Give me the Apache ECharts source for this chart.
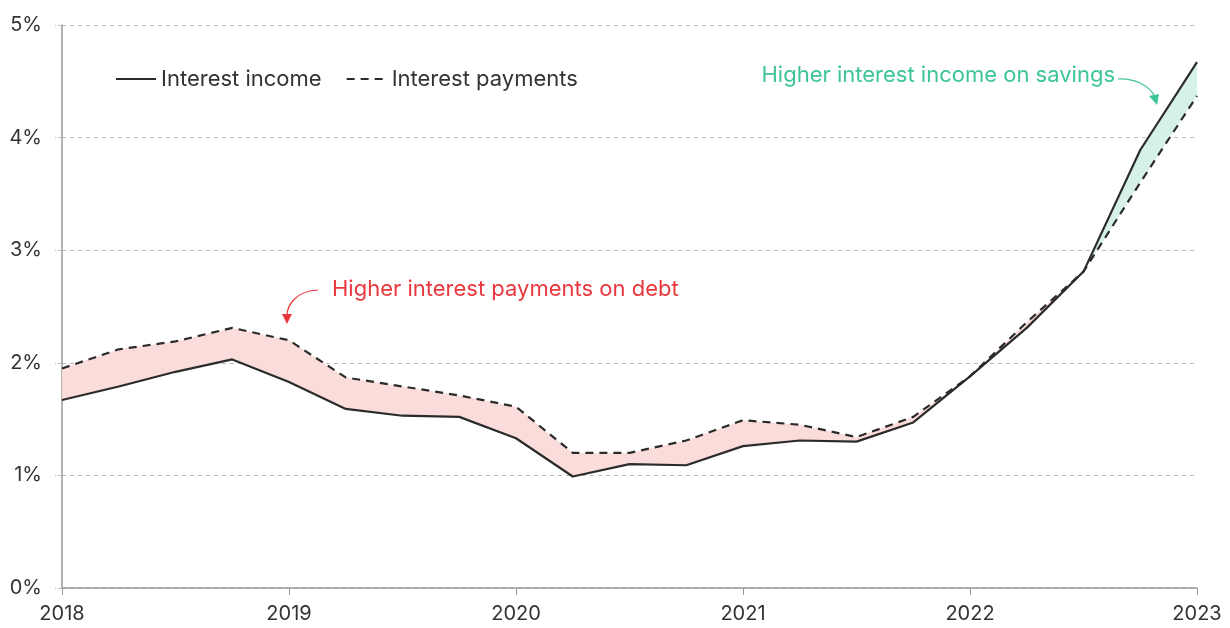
<!DOCTYPE html>
<html>
<head>
<meta charset="utf-8">
<script src="https://cdn.jsdelivr.net/npm/echarts@6/dist/echarts.min.js"></script>
<style>
  html, body { margin: 0; padding: 0; background: #fff; }
  #chart { width: 1230px; height: 628px; }
</style>
</head>
<body>
<div id="chart"></div>
<script>
// quarterly, 2018 Q1 .. 2023 Q1
const quarters = ['2018Q1','2018Q2','2018Q3','2018Q4','2019Q1','2019Q2','2019Q3','2019Q4',
  '2020Q1','2020Q2','2020Q3','2020Q4','2021Q1','2021Q2','2021Q3','2021Q4',
  '2022Q1','2022Q2','2022Q3','2022Q4','2023Q1']
const interestIncome = [1.67, 1.79, 1.92, 2.03, 1.83, 1.59, 1.53, 1.52, 1.33, 0.99, 1.10,
  1.09, 1.26, 1.31, 1.30, 1.47, 1.88, 2.31, 2.81, 3.89, 4.67]
const interestPayments = [1.95, 2.12, 2.19, 2.31, 2.20, 1.87, 1.79, 1.71, 1.61, 1.20, 1.20,
  1.31, 1.49, 1.45, 1.34, 1.52, 1.88, 2.36, 2.81, 3.60, 4.37]
const yTicks = [0, 1, 2, 3, 4, 5]

const FONT = 'Inter'
const debtGap = interestPayments.map((p, i) => Math.max(p - interestIncome[i], 0))
const savingsGap = interestIncome.map((v, i) => Math.max(v - interestPayments[i], 0))

const chart = echarts.init(document.getElementById('chart'))

const hidden = { lineStyle: { opacity: 0 }, showSymbol: false, symbol: 'none', silent: true }

chart.setOption({
  animation: false,
  textStyle: { fontFamily: FONT },
  grid: { left: 62, right: 33, top: 25, bottom: 40, containLabel: false },
  legend: {
    data: ['Interest income', 'Interest payments'],
    left: 110, top: 63,
    itemWidth: 40, itemHeight: 14, itemGap: 24,
    itemStyle: { opacity: 0 },
    textStyle: { fontFamily: FONT, fontSize: 22, color: '#333' }
  },
  xAxis: {
    type: 'category',
    data: quarters,
    boundaryGap: false,
    axisLine: { lineStyle: { color: '#999', width: 1.5 } },
    axisTick: { interval: 3, length: 7, lineStyle: { color: '#999' } },
    axisLabel: {
      interval: 3, margin: 16, fontSize: 20, color: '#333', fontFamily: FONT,
      formatter: v => v.slice(0, 4)
    },
    splitLine: { show: false }
  },
  yAxis: {
    type: 'value',
    min: yTicks[0], max: yTicks[yTicks.length - 1], interval: 1,
    axisLine: { show: true, lineStyle: { color: '#999', width: 1.5 } },
    axisTick: { show: true, length: 7, lineStyle: { color: '#bbb', type: 'dashed' } },
    axisLabel: { margin: 20, fontSize: 20, color: '#333', fontFamily: FONT, formatter: '{value}%' },
    splitLine: { lineStyle: { color: '#bbb', type: [4, 4] } }
  },
  series: [
    { name: 'baseDebt', type: 'line', stack: 'debt', data: interestIncome, ...hidden },
    { name: 'debtBand', type: 'line', stack: 'debt', data: debtGap, ...hidden,
      areaStyle: { color: '#fadcdb', opacity: 1 } },
    { name: 'baseSav', type: 'line', stack: 'sav', data: interestPayments, ...hidden },
    { name: 'savBand', type: 'line', stack: 'sav', data: savingsGap, ...hidden,
      areaStyle: { color: '#d5f1e8', opacity: 1 } },
    { name: 'Interest income', type: 'line', data: interestIncome, symbol: 'none', z: 5,
      itemStyle: { color: '#2b2b2b' },
      lineStyle: { color: '#2b2b2b', width: 2.2 } },
    { name: 'Interest payments', type: 'line', data: interestPayments, symbol: 'none', z: 6,
      itemStyle: { color: '#2b2b2b' },
      lineStyle: { color: '#2b2b2b', width: 2.2, type: [8, 6] } }
  ],
  graphic: [
    { type: 'text', x: 332, y: 278, z: 10,
      style: { text: 'Higher interest payments on debt', fill: '#e8383d', fontSize: 22, fontFamily: FONT } },
    { type: 'bezierCurve', z: 10,
      shape: { x1: 318, y1: 290, cpx1: 296, cpy1: 291, cpx2: 287, cpy2: 305, x2: 287, y2: 316 },
      style: { stroke: '#e8383d', lineWidth: 1.2, fill: null } },
    { type: 'polygon', z: 10,
      shape: { points: [[282, 314], [292, 314], [287, 324]] },
      style: { fill: '#e8383d' } },
    { type: 'text', x: 1115, y: 64, z: 10,
      style: { text: 'Higher interest income on savings', fill: '#3ec595', fontSize: 22, fontFamily: FONT, align: 'right' } },
    { type: 'bezierCurve', z: 10,
      shape: { x1: 1118, y1: 79, cpx1: 1135, cpy1: 78, cpx2: 1150, cpy2: 86, x2: 1155, y2: 97 },
      style: { stroke: '#3ec595', lineWidth: 1.2, fill: null } },
    { type: 'polygon', z: 10,
      shape: { points: [[1149, 96], [1159, 94], [1157, 105]] },
      style: { fill: '#3ec595' } }
  ]
})
</script>
</body>
</html>
